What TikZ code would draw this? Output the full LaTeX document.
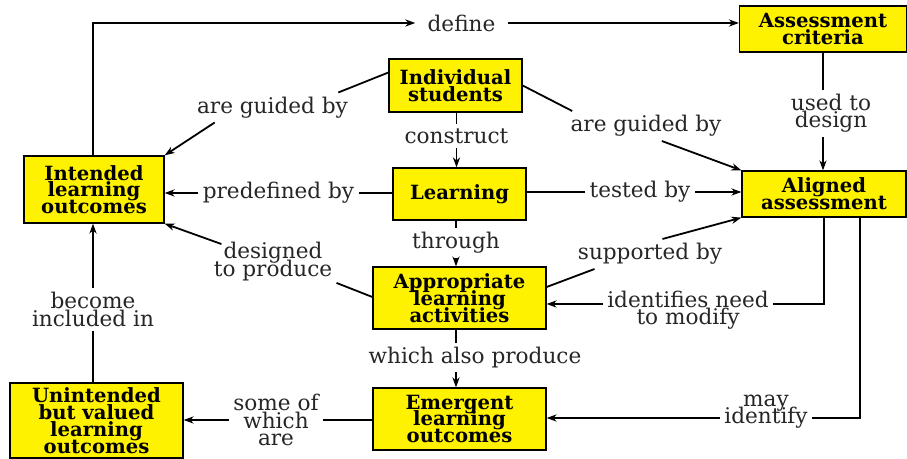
\documentclass[tikz,border=0pt]{standalone}
\usepackage{fontspec}
\setmainfont{DejaVu Serif}
\usetikzlibrary{arrows.meta,calc}
\newcommand\mytightlines{\lineskiplimit=-20pt\relax\lineskip=0pt\relax}
\tikzset{
 box/.style={draw=black, line width=0.65pt, fill=yellow, inner sep=0pt, align=center, font=\bfseries\fontsize{9.8}{8.4}\selectfont\mytightlines},
 lbl/.style={inner sep=2pt, align=center, font=\fontsize{10.8}{8.6}\selectfont\mytightlines, text=black!85},
 edge/.style={line width=0.9pt},
 arr/.style={edge, -{Stealth[length=5pt,width=3.6pt]}},
}
\begin{document}
\begin{tikzpicture}[x=0.5pt,y=-0.5pt]
\useasboundingbox[fill=white] (0,0) rectangle (907,459);
% concept nodes
\node[box, minimum width=83.5pt, minimum height=23pt] (AC) at (823,29) {Assessment\\criteria};
\node[box, minimum width=66.5pt, minimum height=26.5pt] (IS) at (455.5,85.5) {Individual\\students};
\node[box, minimum width=70pt, minimum height=33.5pt] (ILO) at (94,189.5) {Intended\\learning\\outcomes};
\node[box, minimum width=66.5pt, minimum height=26pt] (L) at (459.5,194) {Learning};
\node[box, minimum width=82pt, minimum height=23pt] (AA) at (824,194) {Aligned\\assessment};
\node[box, minimum width=86.5pt, minimum height=31pt] (APLA) at (459.5,298) {Appropriate\\learning\\activities};
\node[box, minimum width=86.5pt, minimum height=31pt] (ELO) at (459.5,419) {Emergent\\learning\\outcomes};
\node[box, minimum width=86.5pt, minimum height=37.5pt] (UVLO) at (96.5,420.5) {Unintended\\but valued\\learning\\outcomes};
% link labels
\node[lbl, inner xsep=6pt] (lDef) at (461.5,23) {define};
\node[lbl] (lAgbL) at (272.5,107.5) {are guided by};
\node[lbl] (lCon) at (456.5,136) {construct};
\node[lbl] (lAgbR) at (646,126) {are guided by};
\node[lbl] (lUtd) at (831,113.5) {used to\\design};
\node[lbl] (lPb) at (278.5,193) {predefined by};
\node[lbl] (lTb) at (640,192) {tested by};
\node[lbl] (lThr) at (456,243) {through};
\node[lbl] (lDtp) at (273,261.5) {designed\\to produce};
\node[lbl] (lSpb) at (650,254) {supported by};
\node[lbl] (lIdn) at (688,310) {identifies need\\to modify};
\node[lbl] (lWap) at (475,357.5) {which also produce};
\node[lbl] (lMi) at (766,411.5) {may\\identify};
\node[lbl] (lSwa) at (276,420) {some of\\which\\are};
\node[lbl] (lBic) at (93,309.5) {become\\included in};
% connectors
\draw[arr] (ILO.north -| lBic) |- (lDef.west);
\draw[arr] (lDef.east) -- (lDef.east -| AC.west);
\draw[edge] ([yshift=6.5pt]IS.west) -- ([xshift=-7pt]lAgbL.north east);
\draw[arr] ([xshift=11pt]lAgbL.south west) -- (ILO.north east);
\draw[edge] (IS.south -| lCon) -- (lCon);
\draw[arr] (lCon) -- (lCon |- L.north);
\draw[edge] (IS.east) -- ([xshift=3pt]lAgbR.north west);
\draw[arr] ([xshift=-32pt]lAgbR.south east) -- (AA.north west);
\draw[edge] (AC.south) -- (AC.south |- lUtd.north);
\draw[arr] (AC.south |- lUtd.south) -- (AC.south |- AA.north);
\draw[edge] (L.west |- lPb) -- (lPb);
\draw[arr] (lPb) -- (lPb -| ILO.east);
\draw[edge] (L.east |- lTb) -- (lTb);
\draw[arr] (lTb) -- (lTb -| AA.west);
\draw[edge] (L.south -| lThr) -- (lThr);
\draw[arr] (lThr) -- (lThr |- APLA.north);
\draw[edge] ([yshift=0.5pt]APLA.west) -- ([yshift=1pt]lDtp.south east);
\draw[arr] ([xshift=6pt,yshift=-3pt]lDtp.north west) -- (ILO.south east);
\draw[edge] ([yshift=5.5pt]APLA.east) -- ([xshift=10.5pt]lSpb.south west);
\draw[arr] ([xshift=-32pt]lSpb.north east) -- (AA.south west);
\draw[edge] (AA.south) |- ([yshift=3pt]lIdn.east);
\draw[arr] ([yshift=3pt]lIdn.west) -- ([yshift=3pt]lIdn.west -| APLA.east);
\draw[edge] (APLA.south -| lThr) -- (lThr |- lWap.north);
\draw[arr] (lThr |- lWap.south) -- (lThr |- ELO.north);
\draw[edge] ([xshift=18pt]AA.south) |- ([yshift=-3.25pt]lMi.east);
\draw[arr] ([yshift=-3.25pt]lMi.west) -- ([yshift=-3.25pt]lMi.west -| ELO.east);
\draw[edge] (ELO.west |- lSwa) -- (lSwa);
\draw[arr] (lSwa) -- (lSwa -| UVLO.east);
\draw[edge] (UVLO.north -| lBic) -- (lBic);
\draw[arr] (lBic) -- (lBic |- ILO.south);
\end{tikzpicture}
\end{document}
